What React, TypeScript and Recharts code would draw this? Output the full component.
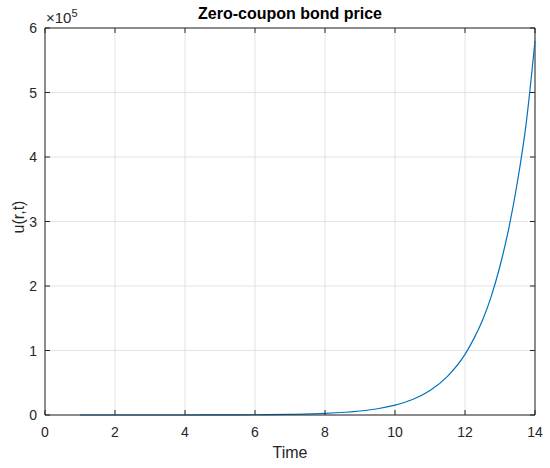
import { LineChart, Line, XAxis, YAxis, CartesianGrid, ReferenceLine } from "recharts";

// time points and bond price u(r,t)
const times = [1, 2, 3, 4, 5, 6, 7, 8, 9, 9.5, 10, 10.5, 11, 11.5, 12, 12.25, 12.5, 12.75, 13, 13.25, 13.5, 13.75, 14];
const prices = [
  2, 5, 13, 32, 160, 400, 1000, 2500, 6200, 9700, 15300, 24000, 38000, 60000, 94000, 118000,
  147000, 184000, 231000, 289000, 362000, 453000, 580000,
];
const xTicks = [0, 2, 4, 6, 8, 10, 12, 14];
const yTicks = [0, 100000, 200000, 300000, 400000, 500000, 600000];

const data = times.map((t, i) => ({ t, u: prices[i] }));

const FONT = '"Liberation Sans", Arial, Helvetica, sans-serif';
const INK = "#262626";
const PLOT_TOP = 28;
const PLOT_BOTTOM = 415;
const PLOT_LEFT = 45;
const PLOT_RIGHT = 535;

// bottom tick label plus inward tick marks on bottom and top edges
function XTick(props: any) {
  const { x, payload } = props;
  return (
    <g>
      <line x1={x} x2={x} y1={PLOT_BOTTOM} y2={PLOT_BOTTOM - 5} stroke={INK} />
      <line x1={x} x2={x} y1={PLOT_TOP} y2={PLOT_TOP + 5} stroke={INK} />
      <text x={x} y={PLOT_BOTTOM + 22} textAnchor="middle" fill={INK} fontSize={14} fontFamily={FONT}>
        {payload.value}
      </text>
    </g>
  );
}

function YTick(props: any) {
  const { y, payload } = props;
  return (
    <g>
      <line x1={PLOT_LEFT} x2={PLOT_LEFT + 5} y1={y} y2={y} stroke={INK} />
      <line x1={PLOT_RIGHT} x2={PLOT_RIGHT - 5} y1={y} y2={y} stroke={INK} />
      <text x={PLOT_LEFT - 8} y={y + 5} textAnchor="end" fill={INK} fontSize={14} fontFamily={FONT}>
        {payload.value / 100000}
      </text>
    </g>
  );
}

export default function App() {
  return (
    <div style={{ position: "absolute", left: 0, top: 0, width: 550, height: 468, background: "#fff", fontFamily: FONT, color: INK }}>
      <LineChart width={550} height={468} data={data} margin={{ top: 28, right: 15, left: 0, bottom: 0 }}>
        <CartesianGrid stroke="#e3e3e3" strokeWidth={1} />
        <XAxis
          dataKey="t"
          type="number"
          domain={[0, 14]}
          ticks={xTicks}
          height={53}
          stroke={INK}
          tickLine={false}
          tickSize={0}
          tickMargin={0}
          tick={<XTick />}
        />
        <YAxis
          type="number"
          domain={[0, 600000]}
          ticks={yTicks}
          width={45}
          stroke={INK}
          tickLine={false}
          tickSize={0}
          tickMargin={0}
          tick={<YTick />}
        />
        <ReferenceLine y={600000} stroke={INK} strokeWidth={1} />
        <ReferenceLine x={14} stroke={INK} strokeWidth={1} />
        <Line
          type="monotone"
          dataKey="u"
          stroke="#0072BD"
          strokeWidth={1.2}
          dot={false}
          isAnimationActive={false}
        />
      </LineChart>
      <div style={{ position: "absolute", left: 290, top: 5, transform: "translateX(-50%)", fontSize: 16, fontWeight: "bold", color: "#000", whiteSpace: "nowrap" }}>
        Zero-coupon bond price
      </div>
      <div style={{ position: "absolute", left: 46, top: 9, fontSize: 15, whiteSpace: "nowrap", lineHeight: "18px" }}>
        ×10<span style={{ fontSize: 11, position: "relative", top: -6 }}>5</span>
      </div>
      <div style={{ position: "absolute", left: 290, top: 444, transform: "translateX(-50%)", fontSize: 16, whiteSpace: "nowrap" }}>
        Time
      </div>
      <div style={{ position: "absolute", left: 19, top: 217, transform: "translate(-50%, -50%) rotate(-90deg)", fontSize: 16, whiteSpace: "nowrap" }}>
        u(r,t)
      </div>
    </div>
  );
}
